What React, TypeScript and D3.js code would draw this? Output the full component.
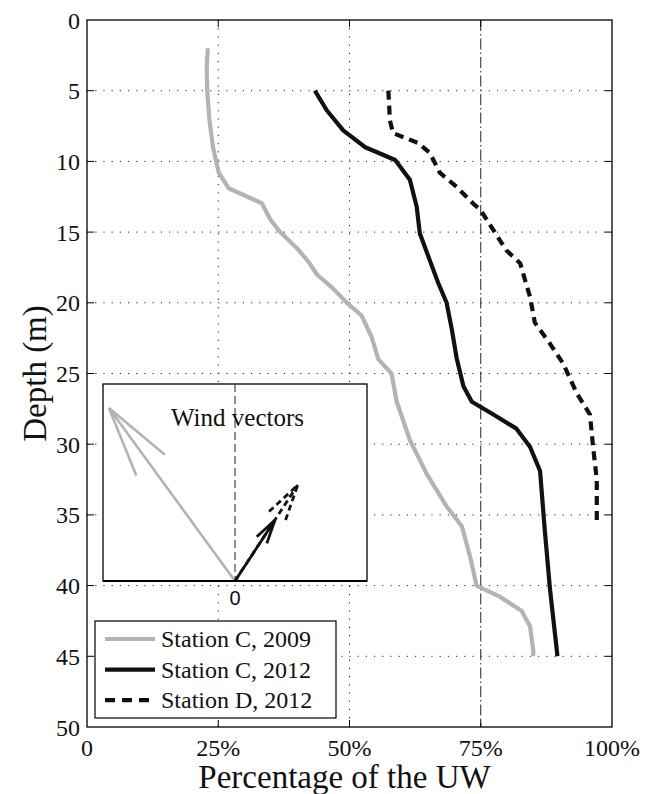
import React from "react";
import * as d3 from "d3";

// ---- data ----
const depthC2009 = [2, 3.5, 5, 7, 9, 10, 10.8, 11.9, 12.96, 14.1, 15, 16.1, 17.1, 18, 19, 20, 20.9, 22.4, 24, 25, 27, 29.7, 32.1, 34.4, 35.8, 38, 40, 40.8, 41.8, 42.9, 44.6, 45];
const pctC2009 = [23.0, 22.8, 22.9, 23.3, 24.0, 24.6, 25.1, 27.0, 33.3, 34.9, 36.8, 39.9, 42.2, 43.8, 46.9, 49.5, 52.3, 54.2, 55.5, 58.0, 59.0, 61.5, 64.7, 68.5, 71.4, 73.0, 74.2, 78.7, 82.8, 84.4, 85.0, 85.0];

const depthC2012 = [5, 6.4, 7.8, 9, 9.9, 11.3, 13.2, 15.1, 17, 18.6, 20, 21.9, 23.9, 25.9, 27, 27.9, 28.9, 30.2, 31.9, 36.1, 40.3, 44.6, 45];
const pctC2012 = [43.4, 45.7, 48.8, 53.0, 58.7, 61.5, 62.8, 63.4, 65.3, 66.9, 68.5, 69.5, 70.4, 71.7, 73.3, 77.4, 81.8, 84.4, 86.3, 87.2, 88.2, 89.5, 89.6];

const depthD2012 = [5, 7.1, 8, 8.7, 9.4, 10.8, 11.8, 13, 13.4, 14.1, 16.3, 17.2, 19.6, 21.4, 22.9, 24.3, 26.4, 27.9, 30.2, 32.5, 35.7];
const pctD2012 = [57.4, 57.7, 58.3, 63.1, 65.3, 67.2, 70.4, 73.6, 74.9, 76.1, 79.9, 82.5, 84.4, 85.3, 88.2, 90.7, 93.3, 95.8, 96.4, 97.1, 97.1];

const xTicks = [0, 25, 50, 75, 100];
const xTickLabels = ["0", "25%", "50%", "75%", "100%"];
const yTicks = [0, 5, 10, 15, 20, 25, 30, 35, 40, 45, 50];
const gridX = [25, 50];
const refLineX = 75;

const seriesNames = ["Station C, 2009", "Station C, 2012", "Station D, 2012"];

// wind vectors (inset units: u in [-1,1], v in [0,1])
const windU = [-0.955, 0.303, 0.475];
const windV = [0.878, 0.31, 0.487];

// ---- layout ----
const W = 658, H = 794;
const L = 87, R = 612, T = 20, B = 727;
const SERIF = '"Liberation Serif", "Times New Roman", "DejaVu Serif", serif';
const SANS = '"Liberation Sans", Arial, sans-serif';
const GRAY = "#b3b3b3";
const BLACK = "#111";

export default function App() {
  const x = d3.scaleLinear().domain([0, 100]).range([L, R]);
  const y = d3.scaleLinear().domain([0, 50]).range([T, B]);

  const line = d3
    .line<[number, number]>()
    .x((d) => x(d[1]))
    .y((d) => y(d[0]));

  const mk = (ds: number[], ps: number[]) => ds.map((d, i) => [d, ps[i]] as [number, number]);

  const series = [
    { name: seriesNames[0], data: mk(depthC2009, pctC2009), color: GRAY, dash: undefined as string | undefined },
    { name: seriesNames[1], data: mk(depthC2012, pctC2012), color: BLACK, dash: undefined },
    { name: seriesNames[2], data: mk(depthD2012, pctD2012), color: BLACK, dash: "9,6" },
  ];

  // inset
  const iL = 103, iR = 367, iT = 384, iB = 581;
  const ix = d3.scaleLinear().domain([-1, 1]).range([iL, iR]);
  const iy = d3.scaleLinear().domain([0, 1]).range([iB, iT]);

  const arrows = windU.map((u, i) => {
    const x0 = ix(0), y0 = iy(0);
    const x1 = ix(u), y1 = iy(windV[i]);
    const dx = x1 - x0, dy = y1 - y0;
    const a = 0.33, b = 0.25;
    const px = -dy, py = dx;
    const b1 = [x1 - a * (dx + b * px), y1 - a * (dy + b * py)];
    const b2 = [x1 - a * (dx - b * px), y1 - a * (dy - b * py)];
    const d = `M${x0},${y0}L${x1},${y1}M${b1[0]},${b1[1]}L${x1},${y1}L${b2[0]},${b2[1]}`;
    return { d, color: i === 0 ? GRAY : BLACK, dash: i === 2 ? "6,4" : undefined };
  });

  const tickLen = 7;
  const legX = 95, legY = 621, legW = 241, legH = 97;
  const serif = { fontFamily: SERIF };

  return (
    <svg width={W} height={H} style={{ position: "absolute", left: 0, top: 0, background: "#fff" }}>
      <rect x={0} y={0} width={W} height={H} fill="#fff" />
      {/* grid */}
      {yTicks.filter((t) => t > 0 && t < 50).map((t) => (
        <line key={"gy" + t} x1={L} x2={R} y1={y(t)} y2={y(t)} stroke="#222" strokeWidth={1} strokeDasharray="1.2,7" />
      ))}
      {gridX.map((t) => (
        <line key={"gx" + t} x1={x(t)} x2={x(t)} y1={T} y2={B} stroke="#222" strokeWidth={1} strokeDasharray="1.2,7" />
      ))}
      <line x1={x(refLineX)} x2={x(refLineX)} y1={T} y2={B} stroke="#222" strokeWidth={1} strokeDasharray="11,3,1.5,3" />

      {/* ticks */}
      {yTicks.filter((t) => t > 0 && t < 50).map((t) => (
        <g key={"ty" + t}>
          <line x1={L} x2={L + tickLen} y1={y(t)} y2={y(t)} stroke="#000" />
          <line x1={R} x2={R - tickLen} y1={y(t)} y2={y(t)} stroke="#000" />
        </g>
      ))}
      {xTicks.filter((t) => t > 0 && t < 100).map((t) => (
        <g key={"tx" + t}>
          <line x1={x(t)} x2={x(t)} y1={B} y2={B - tickLen} stroke="#000" />
          <line x1={x(t)} x2={x(t)} y1={T} y2={T + tickLen} stroke="#000" />
        </g>
      ))}

      {/* curves */}
      {series.map((s) => (
        <path key={s.name} d={line(s.data) || ""} fill="none" stroke={s.color} strokeWidth={4.2} strokeDasharray={s.dash} strokeLinejoin="round" />
      ))}

      {/* frame */}
      <rect x={L} y={T} width={R - L} height={B - T} fill="none" stroke="#000" strokeWidth={1.3} />

      {/* tick labels */}
      {yTicks.map((t) => (
        <text key={"yl" + t} x={L - 7} y={y(t) + 8.5} textAnchor="end" fontSize={24} fill="#111" style={serif}>
          {t}
        </text>
      ))}
      {xTicks.map((t, i) => (
        <text key={"xl" + t} x={x(t)} y={756} textAnchor="middle" fontSize={24} fill="#111" style={serif}>
          {xTickLabels[i]}
        </text>
      ))}
      <text x={(L + R) / 2 - 5} y={788} textAnchor="middle" fontSize={33} fill="#111" style={serif}>
        Percentage of the UW
      </text>
      <text transform={`translate(46,${(T + B) / 2}) rotate(-90)`} textAnchor="middle" fontSize={33} fill="#111" style={serif}>
        Depth (m)
      </text>

      {/* inset */}
      <rect x={iL} y={iT} width={iR - iL} height={iB - iT} fill="#fff" stroke="#000" strokeWidth={1.3} />
      <line x1={ix(0)} x2={ix(0)} y1={iT} y2={iB} stroke="#222" strokeWidth={1} strokeDasharray="8,4" />
      <text x={171} y={426} fontSize={25} fill="#111" style={serif}>Wind vectors</text>
      {arrows.map((a, i) => (
        <path key={"ar" + i} d={a.d} fill="none" stroke={a.color} strokeWidth={i === 0 ? 2.6 : 2.8} strokeDasharray={a.dash} />
      ))}
      <line x1={iL} x2={iR} y1={iB} y2={iB} stroke="#000" strokeWidth={1.8} />
      <text x={ix(0)} y={605} textAnchor="middle" fontSize={20} fill="#111" style={{ fontFamily: SANS }}>0</text>

      {/* legend */}
      <rect x={legX} y={legY} width={legW} height={legH} fill="#fff" stroke="#000" strokeWidth={1.2} />
      {series.map((s, i) => {
        const cy = 639 + i * 30.6;
        return (
          <g key={"lg" + i}>
            <line x1={105} x2={155} y1={cy} y2={cy} stroke={s.color} strokeWidth={4.2} strokeDasharray={s.dash ? "10,7" : undefined} />
            <text x={161} y={cy + 8} fontSize={24} fill="#111" style={serif}>{s.name}</text>
          </g>
        );
      })}
    </svg>
  );
}
